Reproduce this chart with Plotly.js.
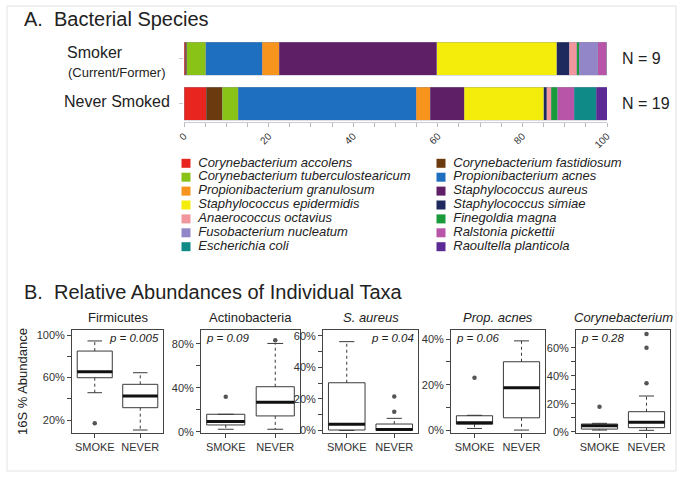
<!DOCTYPE html>
<html><head><meta charset="utf-8">
<script src="https://cdn.plot.ly/plotly-3.0.1.min.js"></script>
<style>html,body{margin:0;padding:0;background:#fff}#chart{width:683px;height:479px}</style>
</head><body><div id="chart"></div>
<script>
// ---------- DATA ----------
const species = ['Corynebacterium accolens','Corynebacterium fastidiosum','Corynebacterium tuberculostearicum','Propionibacterium acnes','Propionibacterium granulosum','Staphylococcus aureus','Staphylococcus epidermidis','Staphylococcus simiae','Anaerococcus octavius','Finegoldia magna','Fusobacterium nucleatum','Ralstonia pickettii','Escherichia coli','Raoultella planticola'];
const speciesColors = ['#e8251f','#6b3b0f','#8ac317','#1f6fc0','#f7941d','#5f1f66','#f4ec0a','#1e2a5e','#f0969c','#1a9a3a','#9286c8','#b855a8','#0f8a86','#5b2a95'];
const smokerAbund = [0.3,0.3,4.5,13.4,4.0,37.2,28.4,3.0,1.7,0.6,4.4,2.1,0.0,0.1];
const neverAbund  = [5.2,3.9,3.7,42.1,3.3,8.0,18.9,0.6,1.1,1.6,0.0,3.8,5.3,2.5];
const groupLabels = ['Smoker','Never Smoked'];
const groupSubLabel = '(Current/Former)';
const groupN = [9,19];
const barTickVals = [0,5,10,15,20,25,30,35,40,45,50,55,60,65,70,75,80,85,90,95,100];
const barTickText = ['0','','','','20','','','','40','','','','60','','','','80','','','','100'];

const taxa = ['Firmicutes','Actinobacteria','S. aureus','Prop. acnes','Corynebacterium'];
const taxaItalic = [false,false,true,true,true];
const pValues = ['0.005','0.09','0.04','0.06','0.28'];
const boxGroups = ['SMOKE','NEVER'];
const smokeLower  = [45.7, 2.4, 0.0, 0.7, 1.2];
const smokeQ1     = [59.8, 6.3, 0.3, 2.6, 1.9];
const smokeMedian = [65.5, 9.4, 3.9, 3.2, 4.3];
const smokeQ3     = [84.9,16.0,30.3, 6.3, 5.5];
const smokeUpper  = [94.4,16.0,56.4, 6.5, 6.0];
const smokeOutliers = [[16.9],[32.0],[],[23.0],[17.9]];
const neverLower  = [10.6, 2.4, 0.0, 0.0, 1.0];
const neverQ1     = [31.6,14.5, 0.0, 5.4, 2.9];
const neverMedian = [42.6,27.0, 0.6,18.7, 6.7];
const neverQ3     = [53.6,41.0, 4.1,30.1,14.3];
const neverUpper  = [64.5,80.3, 7.7,39.3,25.5];
const neverOutliers = [[],[83.3],[11.9,21.5],[],[34.6,60.0,69.8]];
const yTickVals = [[20,40,60,80,100],[0,20,40,60,80],[0,10,20,30,40,50,60],[0,10,20,30,40],[0,10,20,30,40,50,60]];
const yTickText = [['20%','','60%','','100%'],['0%','','40%','','80%'],['0%','','20%','','40%','','60%'],['0%','','20%','','40%'],['0%','','20%','','40%','','60%']];

// ---------- LAYOUT HELPERS ----------
const W = 683, H = 479;
const px = v => v / W, py = v => 1 - v / H;
const FONT = 'Liberation Sans, Arial, Helvetica, sans-serif';
const traces = [];
const annotations = [];

// Stacked bars
species.forEach((s, i) => {
  traces.push({
    type: 'bar', orientation: 'h', name: s,
    y: groupLabels, x: [smokerAbund[i], neverAbund[i]],
    width: 0.733,
    marker: {color: speciesColors[i], line: {color: 'rgba(150,150,175,0.55)', width: 0.6}},
    xaxis: 'x', yaxis: 'y', hoverinfo: 'name+x'
  });
});

// Legend (two columns, row-major)
const legCol = species.map((s, i) => i % 2);
const legRow = species.map((s, i) => Math.floor(i / 2));
traces.push({
  type: 'scatter', mode: 'markers', x: legCol, y: legRow, cliponaxis: false,
  marker: {symbol: 'square', size: 9, color: speciesColors},
  xaxis: 'x7', yaxis: 'y7', hoverinfo: 'skip'
});
traces.push({
  type: 'scatter', mode: 'markers+text', x: legCol, y: legRow, text: species, cliponaxis: false,
  textposition: 'middle right',
  textfont: {family: FONT, size: 13, color: '#222', style: 'italic'},
  marker: {size: 18, color: 'rgba(0,0,0,0)'},
  xaxis: 'x7', yaxis: 'y7', hoverinfo: 'skip'
});

// Box panels
const panelX = [[72,163],[201,300],[323,418],[451,545],[576,670]];
const panelYR = [[7.8,104.7],[-1,92.5],[-1.6,63.8],[-1.3,44.1],[-0.9,72.6]];
const BW = 0.77, CAP = 0.16;
const layoutAxes = {};
taxa.forEach((t, p) => {
  const n = p + 2, xa = 'x' + n, ya = 'y' + n;
  const stats = [
    [smokeLower[p], smokeQ1[p], smokeMedian[p], smokeQ3[p], smokeUpper[p], smokeOutliers[p]],
    [neverLower[p], neverQ1[p], neverMedian[p], neverQ3[p], neverUpper[p], neverOutliers[p]]
  ];
  stats.forEach((st, g) => {
    const xpos = g + 1;
    const [lf, q1, med, q3, uf, outs] = st;
    traces.push({type: 'box', x: [xpos], q1: [q1], median: [med], q3: [q3], lowerfence: [q1], upperfence: [q3],
      width: BW, whiskerwidth: 0, fillcolor: '#ffffff', line: {color: '#3a3a3a', width: 1},
      boxpoints: false, xaxis: xa, yaxis: ya, hoverinfo: 'skip'});
    traces.push({type: 'scatter', mode: 'lines', x: [xpos, xpos, null, xpos, xpos], y: [q3, uf, null, q1, lf],
      line: {color: '#3a3a3a', width: 1, dash: '3px,3px'}, xaxis: xa, yaxis: ya, hoverinfo: 'skip'});
    traces.push({type: 'scatter', mode: 'lines', x: [xpos - CAP, xpos + CAP, null, xpos - CAP, xpos + CAP], y: [uf, uf, null, lf, lf],
      line: {color: '#3a3a3a', width: 1}, xaxis: xa, yaxis: ya, hoverinfo: 'skip'});
    traces.push({type: 'scatter', mode: 'lines', x: [xpos - BW / 2, xpos + BW / 2], y: [med, med],
      line: {color: '#111', width: 3}, xaxis: xa, yaxis: ya, hoverinfo: 'skip'});
    if (outs.length) traces.push({type: 'scatter', mode: 'markers', x: outs.map(() => xpos), y: outs,
      marker: {color: '#555', size: 4.5}, xaxis: xa, yaxis: ya, hoverinfo: 'skip'});
  });
  const dom = [px(panelX[p][0]), px(panelX[p][1])];
  layoutAxes['xaxis' + n] = {domain: dom, anchor: ya, range: [0.5, 2.5], tickvals: [1, 2], ticktext: boxGroups,
    ticks: 'outside', ticklen: 4, tickcolor: '#444', showline: true, mirror: true, linecolor: '#444', linewidth: 1,
    showgrid: false, zeroline: false, tickfont: {size: 11, color: '#333'}, automargin: false, fixedrange: true};
  layoutAxes['yaxis' + n] = {domain: [py(433), py(330)], anchor: xa, range: panelYR[p], tickvals: yTickVals[p], ticktext: yTickText[p],
    ticks: 'outside', ticklen: 4, tickcolor: '#444', showline: true, mirror: true, linecolor: '#444', linewidth: 1,
    showgrid: false, zeroline: false, tickfont: {size: 11, color: '#333'}, automargin: false, fixedrange: true};
  annotations.push({xref: 'paper', yref: 'paper', x: (dom[0] + dom[1]) / 2, y: py(317), xanchor: 'center', yanchor: 'middle',
    text: t, showarrow: false, font: {size: 13, color: '#222', style: taxaItalic[p] ? 'italic' : 'normal'}});
  const right = (p === 0 || p === 2);
  annotations.push({xref: 'paper', yref: 'paper', x: right ? px(panelX[p][1] - 2) : px(panelX[p][0] + 3), y: py(338),
    xanchor: right ? 'right' : 'left', yanchor: 'middle', text: 'p = ' + pValues[p], showarrow: false,
    font: {size: 11.5, color: '#222', style: 'italic'}});
});

// Text annotations
annotations.push({xref: 'paper', yref: 'paper', x: px(22), y: py(19), xanchor: 'left', yanchor: 'middle',
  text: 'A.\u00a0 Bacterial Species', showarrow: false, font: {size: 20, color: '#222'}});
annotations.push({xref: 'paper', yref: 'paper', x: px(22), y: py(292), xanchor: 'left', yanchor: 'middle',
  text: 'B.\u00a0 Relative Abundances of Individual Taxa', showarrow: false, font: {size: 20, color: '#222'}});
annotations.push({xref: 'paper', yref: 'paper', x: px(65), y: py(52), xanchor: 'left', yanchor: 'middle',
  text: groupLabels[0], showarrow: false, font: {size: 16, color: '#222'}});
annotations.push({xref: 'paper', yref: 'paper', x: px(66), y: py(72), xanchor: 'left', yanchor: 'middle',
  text: groupSubLabel, showarrow: false, font: {size: 13, color: '#222'}});
annotations.push({xref: 'paper', yref: 'paper', x: px(62), y: py(102), xanchor: 'left', yanchor: 'middle',
  text: groupLabels[1], showarrow: false, font: {size: 16, color: '#222'}});
groupLabels.forEach((g, i) => {
  annotations.push({xref: 'paper', yref: 'y', x: px(620), y: g, xanchor: 'left', yanchor: 'middle',
    text: 'N = ' + groupN[i], showarrow: false, font: {size: 16, color: '#222'}});
});
annotations.push({xref: 'paper', yref: 'paper', x: px(22), y: py(382), xanchor: 'center', yanchor: 'middle', textangle: -90,
  text: '16S % Abundance', showarrow: false, font: {size: 13, color: '#222'}});

const layout = Object.assign({
  width: W, height: H, margin: {l: 0, r: 0, t: 0, b: 0},
  paper_bgcolor: '#fff', plot_bgcolor: 'rgba(0,0,0,0)',
  font: {family: FONT, color: '#222'},
  showlegend: false, barmode: 'stack', bargap: 0,
  xaxis: {domain: [px(184), px(607)], anchor: 'y', range: [0, 100], tickvals: barTickVals, ticktext: barTickText,
    tickangle: -45, ticks: 'outside', ticklen: 4, tickcolor: '#bbb', showline: true, linecolor: '#ccc', linewidth: 1,
    showgrid: false, zeroline: false, tickfont: {size: 10, color: '#333'}, automargin: false, fixedrange: true},
  yaxis: {domain: [py(121.5), py(40)], anchor: 'x', type: 'category', categoryorder: 'array', categoryarray: ['Never Smoked', 'Smoker'],
    range: [-0.396, 1.417], showticklabels: false, ticks: 'outside', ticklen: 4, tickcolor: '#ccc', showline: false,
    showgrid: false, zeroline: false, automargin: false, fixedrange: true},
  xaxis7: {domain: [px(186), px(441)], anchor: 'y7', range: [0, 1], visible: false, fixedrange: true},
  yaxis7: {domain: [py(246.7), py(163.3)], anchor: 'x7', range: [6, 0], visible: false, fixedrange: true},
  annotations: annotations,
  shapes: [{type: 'rect', xref: 'paper', yref: 'paper', x0: px(7), x1: px(676), y0: py(471), y1: py(6),
    line: {color: '#e2e2e2', width: 1}, fillcolor: 'rgba(0,0,0,0)', layer: 'below'}]
}, layoutAxes);

Plotly.newPlot('chart', traces, layout, {displayModeBar: false, staticPlot: true});
</script></body></html>
